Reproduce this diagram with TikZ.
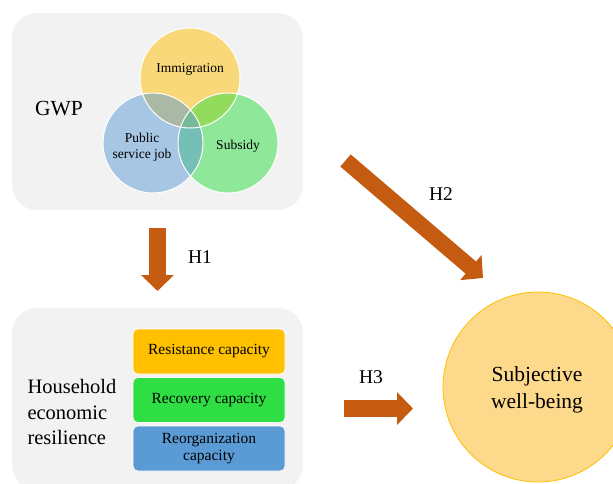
\documentclass[tikz,border=0pt]{standalone}
\usepackage{fontspec}
\setmainfont{Liberation Serif}
\usetikzlibrary{arrows.meta}
\definecolor{panelgray}{HTML}{F2F2F2}
\definecolor{gold}{HTML}{FFC000}
\definecolor{skyblue}{HTML}{5B9BD5}
\definecolor{leafgreen}{HTML}{2EDE42}
\definecolor{rustarrow}{HTML}{C55A11}
\definecolor{swbfill}{HTML}{FDD98B}
\tikzset{
  panel/.style={rectangle, fill=panelgray, rounded corners=25pt},
  venn/.style={circle, fill opacity=0.5, minimum size=100pt, inner sep=0pt},
  capbox/.style={rectangle, rounded corners=5pt, draw=white, line width=0.6pt,
    minimum width=152pt, minimum height=45pt, align=center,
    font=\fontsize{15.5}{17}\selectfont},
  hyp/.style={line width=17pt, draw=rustarrow, -{Triangle[width=32pt,length=16pt]}},
  hlabel/.style={font=\fontsize{19.5}{22}\selectfont}
}
\begin{document}
\begin{tikzpicture}[x=1pt, y=-1pt]
  \useasboundingbox (0,0) rectangle (613,483);
  \clip (0,0) rectangle (613,483);
  % panels
  \node[panel, minimum width=291pt, minimum height=197pt] (gwp) at (157.5,111.5) {};
  \node[panel, minimum width=291pt, minimum height=182pt] (her) at (157.5,399) {};
  % venn diagram
  \node[venn, fill=gold] (imm) at (190,78) {};
  \node[venn, fill=leafgreen] (sub) at (228,143) {};
  \node[venn, fill=skyblue] (psj) at (153,143) {};
  \foreach \c in {imm,psj,sub}
    \draw[white, line width=1pt] (\c.center) circle (50pt);
  \node[font=\fontsize{13.5}{15}\selectfont] (immtext) at (190,69) {Immigration};
  \node[font=\fontsize{13.5}{16}\selectfont, align=center] (psjtext) at (142,147) {Public\\service job};
  \node[font=\fontsize{13.5}{15}\selectfont] (subtext) at (238,146) {Subsidy};
  \node[font=\fontsize{21.5}{24}\selectfont] (gwptext) at (59,109) {GWP};
  % resilience
  \node[font=\fontsize{20.5}{25.5}\selectfont, align=left, anchor=west] (hertext) at (24,412) {Household\\economic\\resilience};
  \node[capbox, fill=gold] (res) at (209,351.5) {Resistance capacity};
  \node[capbox, fill=leafgreen] (rec) at (209,400) {Recovery capacity};
  \node[capbox, fill=skyblue] (reo) at (209,448.5) {Reorganization\\capacity};
  % subjective well-being
  \node[circle, fill=swbfill, draw=gold, line width=0.8pt, minimum size=190pt] (swb) at (538,387) {};
  \node[align=center, font=\fontsize{21.5}{27}\selectfont] (swbtext) at (537,390) {Subjective\\well-being};
  % hypotheses
  \coordinate (h1s) at (157.5,228);
  \coordinate (h1e) at (157.5,291);
  \coordinate (h2s) at (345.5,160.5);
  \coordinate (h2e) at (483,278);
  \coordinate (h3s) at (344,408.5);
  \coordinate (h3e) at (413,408.5);
  \draw[hyp] (h1s) -- (h1e);
  \draw[hyp, line width=16pt] (h2s) -- (h2e);
  \draw[hyp] (h3s) -- (h3e);
  \node[hlabel] (h1) at (200,257) {H1};
  \node[hlabel] (h2) at (441,194) {H2};
  \node[hlabel] (h3) at (371,377) {H3};
\end{tikzpicture}
\end{document}
